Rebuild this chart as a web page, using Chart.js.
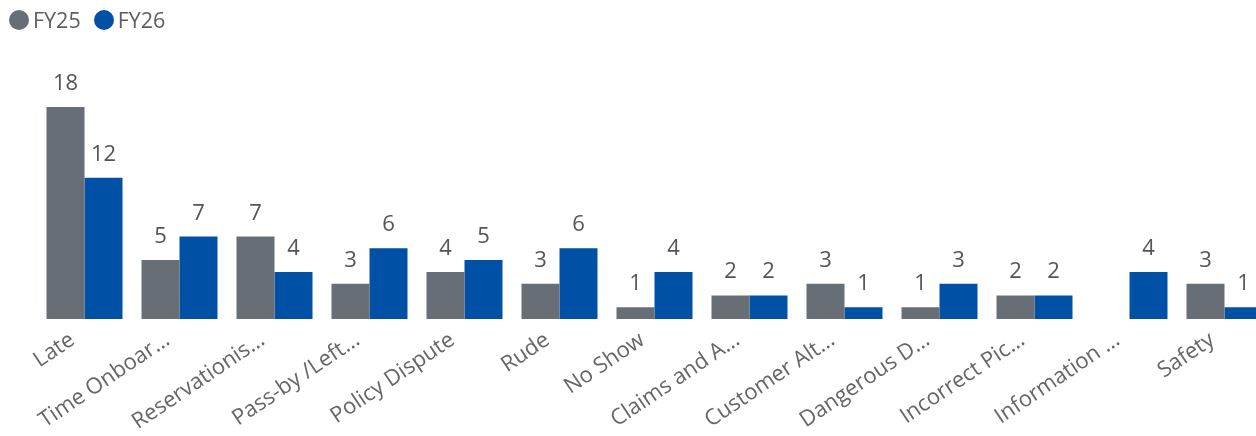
<!DOCTYPE html>
<html>
<head>
<meta charset="utf-8">
<script src="https://cdn.jsdelivr.net/npm/chart.js@4.4.1/dist/chart.umd.min.js"></script>
<style>
  html, body { margin: 0; padding: 0; background: #fff; overflow: hidden; }
  #wrap { position: relative; width: 1300px; height: 436px; }
  #leyenda {
    position: absolute; left: 9px; top: 6px; z-index: 2;
    font-family: 'Segoe UI', 'Open Sans', sans-serif; font-size: 21.5px; color: #605E5C;
    display: flex; align-items: center; line-height: 28px;
  }
  #leyenda .item { display: flex; align-items: center; margin-right: 13px; }
  #leyenda .punto { width: 20px; height: 20px; border-radius: 50%; margin-right: 4px; }
</style>
</head>
<body>
<div id="wrap">
  <div id="leyenda"></div>
  <canvas id="chart"></canvas>
</div>
<script>
// categorias (ya truncadas como en el informe)
const categorias = [
  'Late', 'Time Onboar...', 'Reservationis...', 'Pass-by /Left...', 'Policy Dispute',
  'Rude', 'No Show', 'Claims and A...', 'Customer Alt...', 'Dangerous D...',
  'Incorrect Pic...', 'Information ...', 'Safety'
];
const series = ['FY25', 'FY26'];
const colores = ['#686E76', '#0050A6'];
const fy25 = [18, 5, 7, 3, 4, 3, 1, 2, 3, 1, 2, null, 3];
const fy26 = [12, 7, 4, 6, 5, 6, 4, 2, 1, 3, 2, 4, 1];

const fuente = "'Segoe UI', 'Open Sans', sans-serif";

// leyenda en HTML
const leyenda = document.getElementById('leyenda');
series.forEach((nombre, i) => {
  const item = document.createElement('span');
  item.className = 'item';
  item.innerHTML = '<span class="punto" style="background:' + colores[i] + '"></span>' + nombre;
  leyenda.appendChild(item);
});

// etiquetas de valor encima de cada barra
const etiquetas = {
  id: 'etiquetas',
  afterDatasetsDraw(chart) {
    const ctx = chart.ctx;
    ctx.save();
    ctx.font = '22px ' + fuente;
    ctx.fillStyle = '#555555';
    ctx.textAlign = 'center';
    ctx.textBaseline = 'alphabetic';
    chart.data.datasets.forEach((ds, i) => {
      chart.getDatasetMeta(i).data.forEach((bar, j) => {
        const v = ds.data[j];
        if (v === null || v === undefined) return;
        ctx.fillText(String(v), bar.x, bar.y - 17);
      });
    });
    ctx.restore();
  }
};

new Chart(document.getElementById('chart'), {
  type: 'bar',
  data: {
    labels: categorias,
    datasets: [
      { label: series[0], data: fy25, backgroundColor: colores[0], categoryPercentage: 0.8, barPercentage: 1.0 },
      { label: series[1], data: fy26, backgroundColor: colores[1], categoryPercentage: 0.8, barPercentage: 1.0 }
    ]
  },
  options: {
    responsive: true,
    maintainAspectRatio: false,
    animation: false,
    layout: { padding: { left: 37, right: 28, top: 107, bottom: 0 } },
    plugins: {
      legend: { display: false },
      tooltip: { enabled: false }
    },
    scales: {
      x: {
        grid: { display: false },
        border: { display: false },
        afterFit(scale) { scale.height = 117; },
        ticks: {
          color: '#666666',
          font: { family: fuente, size: 22 },
          minRotation: 34,
          maxRotation: 34,
          autoSkip: false,
          labelOffset: -12,
          padding: 0
        }
      },
      y: {
        display: false,
        min: 0,
        max: 18
      }
    }
  },
  plugins: [etiquetas]
});
</script>
</body>
</html>
